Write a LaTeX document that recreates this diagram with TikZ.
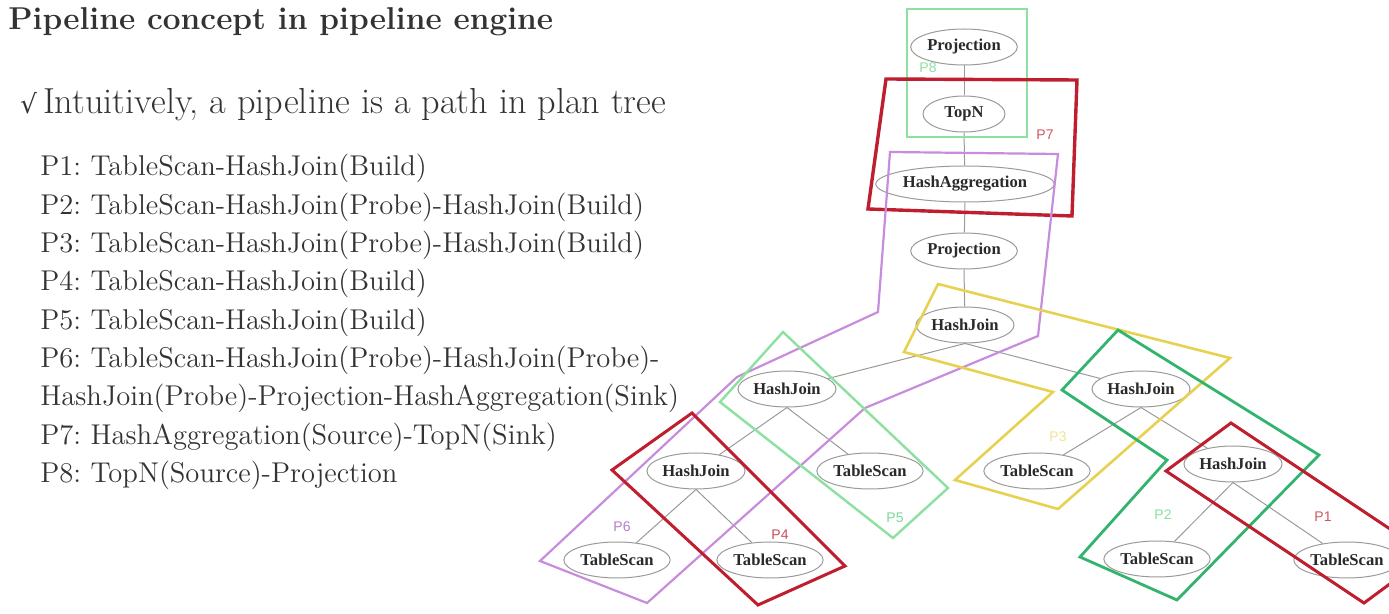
\documentclass[tikz,border=0pt]{standalone}
\usepackage{fontspec}
\usetikzlibrary{shapes}
\newfontfamily\nodefont{Liberation Serif}
\newfontfamily\tagfont{Liberation Sans}
\newfontfamily\symfont{DejaVu Sans}
\frenchspacing
\definecolor{txtgray}{HTML}{333333}
\definecolor{opgray}{HTML}{9A9A9A}
\definecolor{optext}{HTML}{2A2A2A}
\definecolor{lightgreen}{HTML}{8CE0A0}
\definecolor{darkred}{HTML}{BE1E2D}
\definecolor{violet6}{HTML}{C88CDC}
\definecolor{yellow3}{HTML}{E6D250}
\definecolor{green2}{HTML}{32B46E}

\begin{document}
\begin{tikzpicture}[x=0.5pt,y=-0.5pt]
  \useasboundingbox (0,0) rectangle (1389,614);
  \clip (0,0) rectangle (1389,614);
  \tikzstyle{op}=[ellipse,draw=opgray,line width=0.5pt,inner sep=0.5pt,minimum height=18pt,minimum width=41pt,
                  text=optext,font=\nodefont\bfseries\fontsize{8.3}{9}\selectfont]
  \tikzstyle{edge}=[draw=opgray,line width=0.5pt]
  \tikzstyle{pipe}=[line join=miter]
  \tikzstyle{tag}=[inner sep=0pt,font=\tagfont\fontsize{7}{8}\selectfont]
  \tikzstyle{item}=[anchor=base west,inner sep=0pt,text=txtgray,font=\fontsize{14.3}{16}\selectfont]

%% title and text
  \node[anchor=base west,inner sep=0pt,text=txtgray,font=\bfseries\fontsize{15.8}{18}\selectfont] (title) at (8,30) {Pipeline concept in pipeline engine};
  \node[anchor=base west,inner sep=0pt,text=txtgray,font=\fontsize{18.1}{20}\selectfont] (intro) at (20,114) {{\symfont\fontsize{13}{14}\selectfont √}\,Intuitively, a pipeline is a path in plan tree};
  \foreach \n/\txt in {0/P1: TableScan-HashJoin(Build),
                       1/P2: TableScan-HashJoin(Probe)-HashJoin(Build),
                       2/P3: TableScan-HashJoin(Probe)-HashJoin(Build),
                       3/P4: TableScan-HashJoin(Build),
                       4/P5: TableScan-HashJoin(Build),
                       5/P6: TableScan-HashJoin(Probe)-HashJoin(Probe)-,
                       6/HashJoin(Probe)-Projection-HashAggregation(Sink),
                       7/P7: HashAggregation(Source)-TopN(Sink),
                       8/P8: TopN(Source)-Projection}
    \node[item] (line\n) at (40,176+38.3*\n) {\txt};

%% plan tree
  \node[op] (proj-top) at (964,47)   {Projection};
  \node[op] (topn)     at (964,114)  {TopN};
  \node[op] (hashagg)  at (965,184)  {HashAggregation};
  \node[op] (proj-mid) at (964,251)  {Projection};
  \node[op] (hj-root)  at (965,325)  {HashJoin};
  \node[op] (hj-l)     at (787,389)  {HashJoin};
  \node[op] (hj-r)     at (1141,389) {HashJoin};
  \node[op] (hj-ll)    at (696,471)  {HashJoin};
  \node[op] (ts-l)     at (870,471)  {TableScan};
  \node[op] (ts-r)     at (1037,471) {TableScan};
  \node[op] (hj-rr)    at (1233,464) {HashJoin};
  \node[op] (ts-ll1)   at (617,560)  {TableScan};
  \node[op] (ts-ll2)   at (770,560)  {TableScan};
  \node[op] (ts-rr1)   at (1157,559) {TableScan};
  \node[op] (ts-rr2)   at (1347,560) {TableScan};
  \foreach \a/\b in {proj-top/topn, topn/hashagg, hashagg/proj-mid, proj-mid/hj-root,
                     hj-root/hj-l, hj-root/hj-r, hj-l/hj-ll, hj-l/ts-l, hj-ll/ts-ll1, hj-ll/ts-ll2,
                     hj-r/ts-r, hj-r/hj-rr, hj-rr/ts-rr1, hj-rr/ts-rr2}
    \draw[edge] (\a.south) -- (\b);

%% pipelines
  \draw[pipe,draw=lightgreen,line width=1.2pt] (907,9) rectangle (1027,137);
  \draw[pipe,draw=darkred,line width=1.7pt] (886,79) -- (1077,80) -- (1072,216) -- (868,209) -- cycle;
  \draw[pipe,draw=violet6,line width=1.1pt] (890,152) -- (1058,154) -- (1038,336) -- (865,408) -- (647,603)
        -- (540,561) -- (737,377) -- (878,312) -- cycle;
  \draw[pipe,draw=lightgreen,line width=1.2pt] (783,332) -- (948,488) -- (893,538) -- (720,402) -- cycle;
  \draw[pipe,draw=darkred,line width=1.5pt] (692,413) -- (845,566) -- (758,605) -- (612,470) -- cycle;
  \draw[pipe,draw=yellow3,line width=1.3pt] (938,284) -- (1230,358) -- (1058,509) -- (955,480) -- (1053,392)
        -- (904,352) -- cycle;
  \draw[pipe,draw=green2,line width=1.4pt] (1118,330) -- (1319,455) -- (1177,600) -- (1080,557) -- (1167,460)
        -- (1062,390) -- cycle;
  \draw[pipe,draw=darkred,line width=1.5pt] (1231,423) -- (1429,555) -- (1364,603) -- (1166,471) -- cycle;

%% pipeline tags
  \node[tag,text=lightgreen]         (tag8) at (928,68)   {P8};
  \node[tag,text=darkred!75]         (tag7) at (1045,135) {P7};
  \node[tag,text=violet6!90!black]   (tag6) at (622,527)  {P6};
  \node[tag,text=lightgreen!90!teal] (tag5) at (895,518)  {P5};
  \node[tag,text=darkred!80]         (tag4) at (780,535)  {P4};
  \node[tag,text=yellow3!60]         (tag3) at (1058,437) {P3};
  \node[tag,text=lightgreen]         (tag2) at (1163,515) {P2};
  \node[tag,text=darkred!75]         (tag1) at (1323,517) {P1};
\end{tikzpicture}
\end{document}
